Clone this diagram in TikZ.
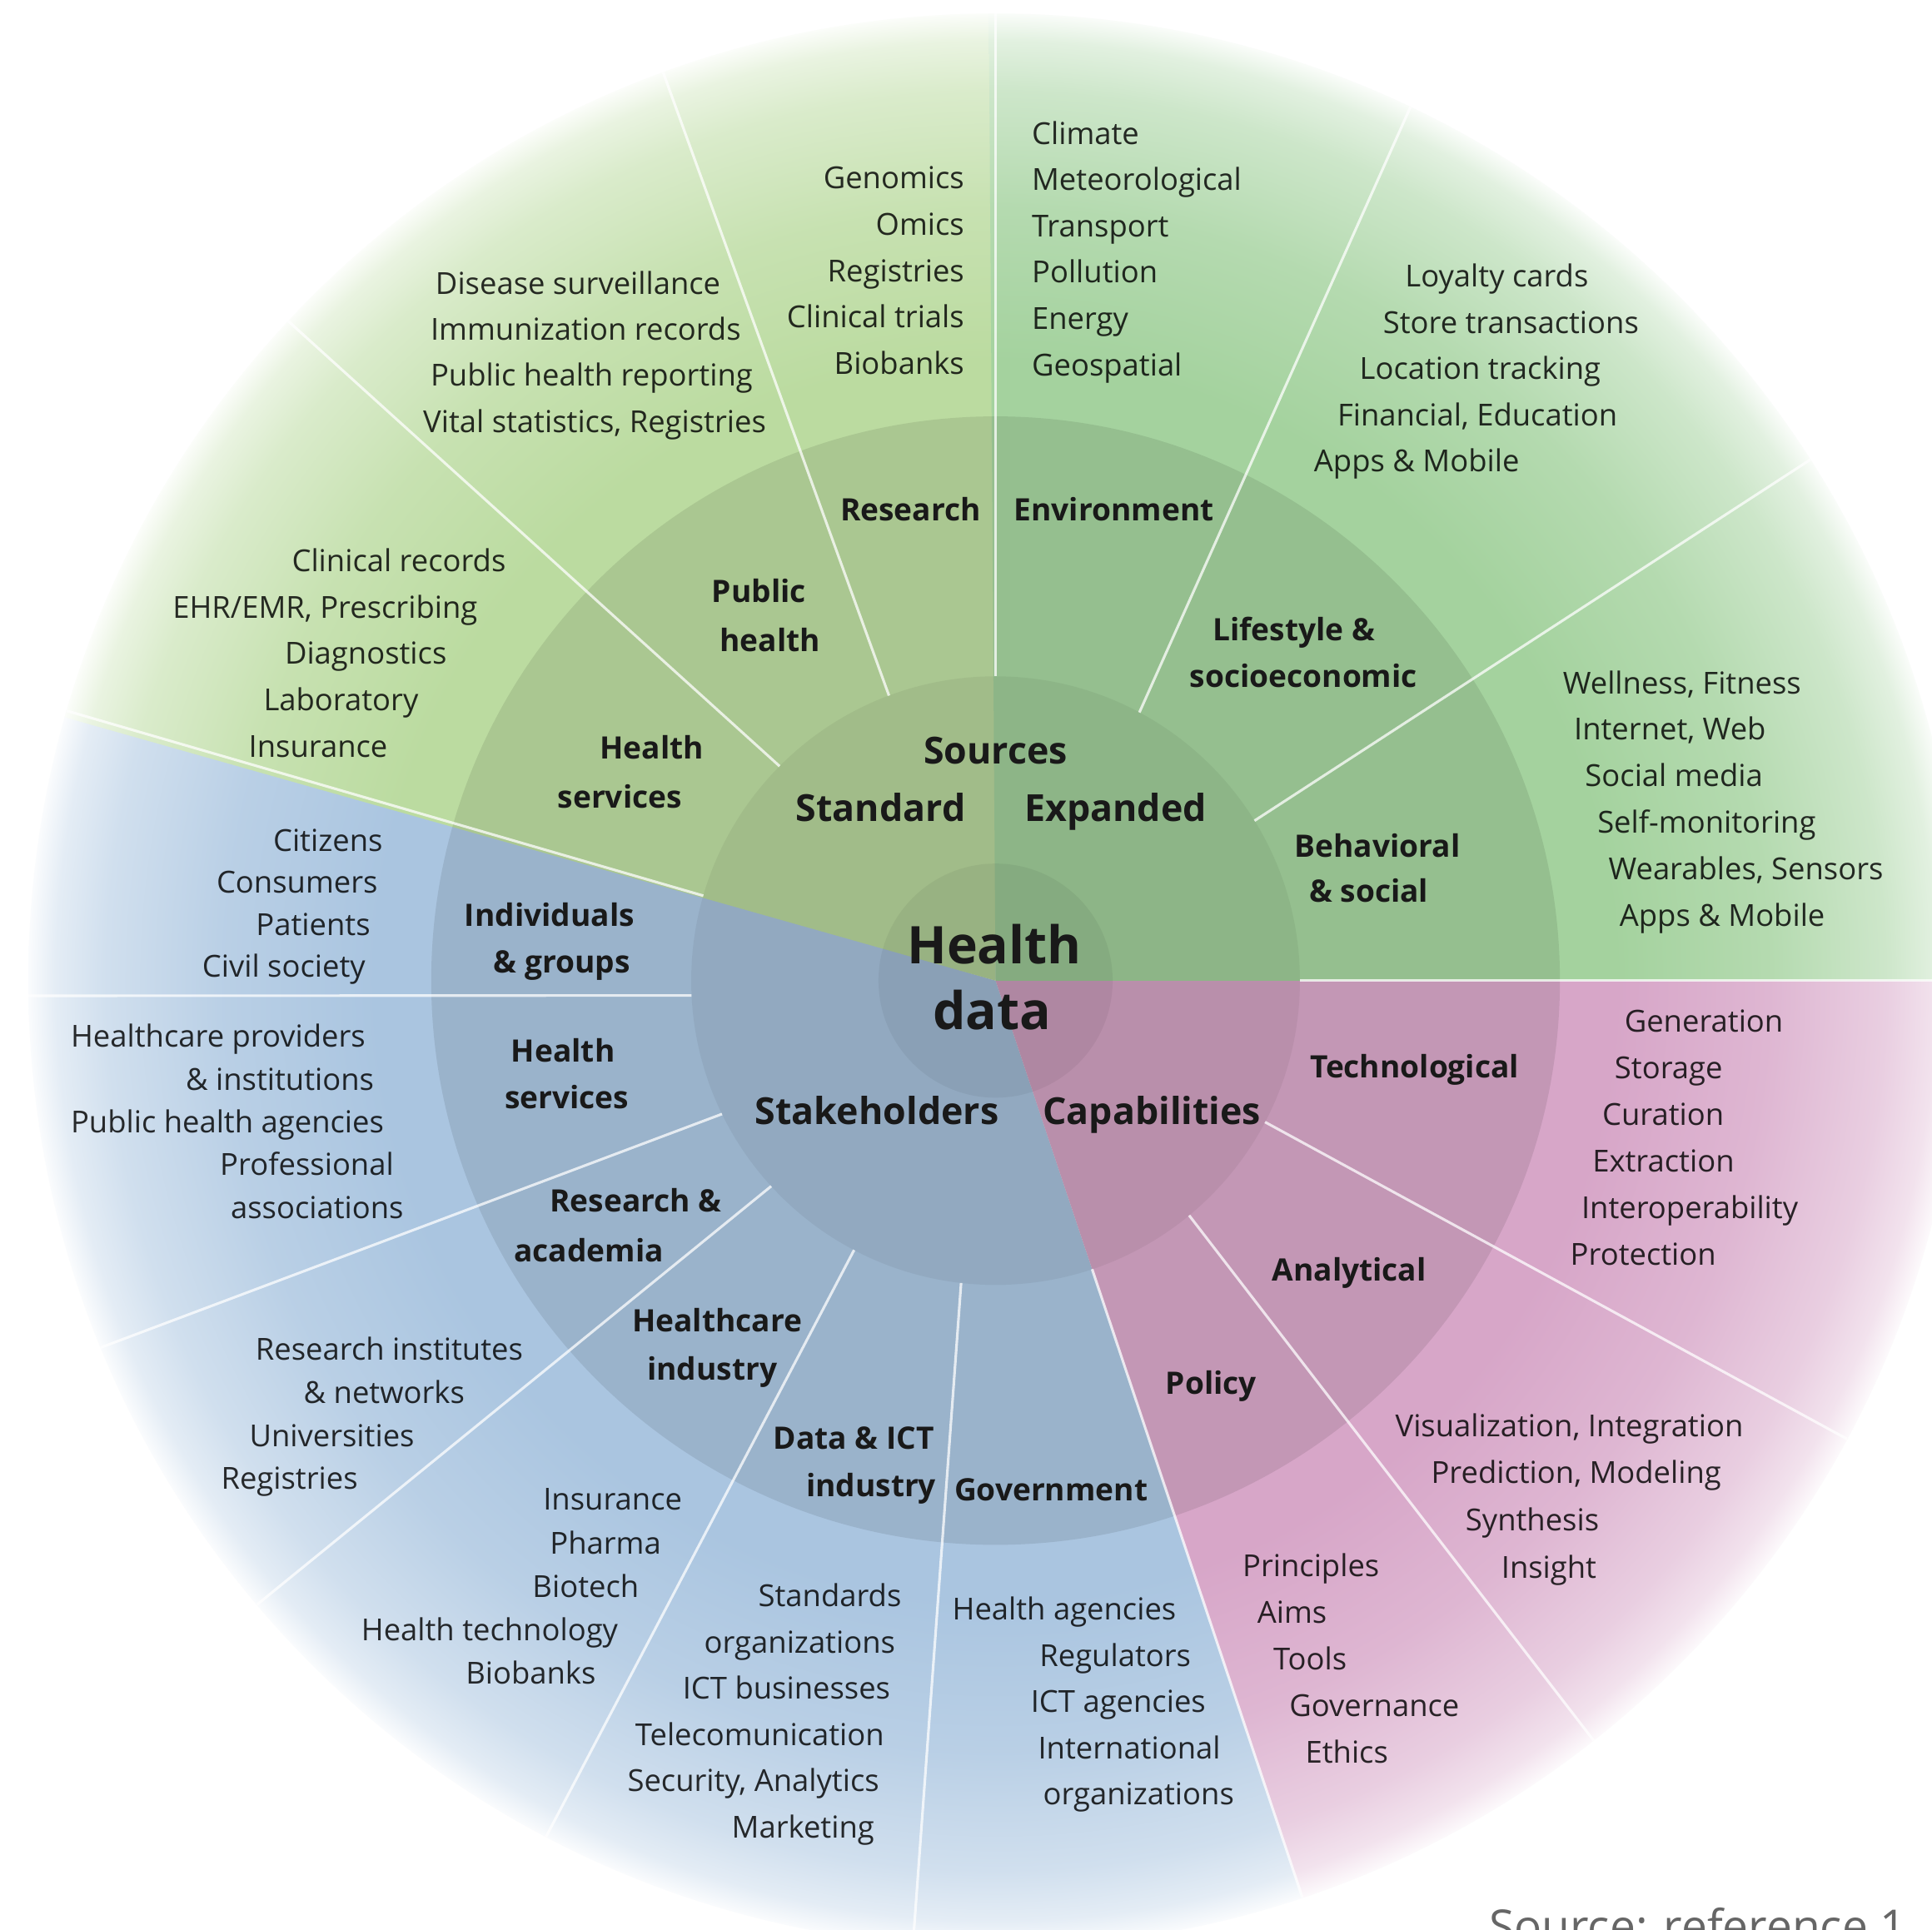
\documentclass[tikz,border=0pt]{standalone}
\usepackage{tikz}
\usepackage{fontspec}
\setmainfont{Open Sans}

% Colores de los sectores
\definecolor{verdestd}{RGB}{187,219,160}
\definecolor{verdeexp}{RGB}{164,210,158}
\definecolor{azul}{RGB}{170,197,224}
\definecolor{rosa}{RGB}{215,166,200}

% Degradado radial hacia el blanco en el borde (25bp = borde del circulo)
\newcommand{\degradado}[2]{%
  \pgfdeclareradialshading{#1}{\pgfpointorigin}{%
    color(0bp)=(#2); color(16bp)=(#2); color(20bp)=(#2!82!white);
    color(23bp)=(#2!55!white); color(24.3bp)=(#2!32!white); color(25bp)=(#2!6!white);
    color(25.3bp)=(white); color(50bp)=(white)}}
\degradado{stdfade}{verdestd}
\degradado{expfade}{verdeexp}
\degradado{azulfade}{azul}
\degradado{rosafade}{rosa}

\tikzset{
  item/.style={font=\fontsize{10.5}{12}\selectfont, text=black, text opacity=0.82, inner sep=0pt},
  rotulo/.style={font=\bfseries\fontsize{10.7}{12}\selectfont, text=black!90, inner sep=0pt},
  titulo/.style={font=\bfseries\fontsize{12.9}{15}\selectfont, text=black!90, inner sep=0pt},
  centro/.style={font=\bfseries\fontsize{18}{21}\selectfont, text=black!90, inner sep=0pt},
  fuente/.style={font=\fontsize{15.9}{18}\selectfont, text=black!60, inner sep=0pt},
  linea/.style={white, line width=0.9pt, opacity=0.75}
}

% Lista de lineas: nombre, anchor, y inicial, paso, estilo, x/texto
\newcommand{\bloque}[6]{%
  \foreach \x/\txt [count=\i from 0] in {#6}
    \node[#5, anchor=#2] (#1-\i) at (\x, #3-\i*#4) {\txt};}

\begin{document}
\begin{tikzpicture}[x=0.015cm, y=0.015cm]
    \clip (-808,-770) rectangle (760,796);
    \fill[white] (-808,-770) rectangle (760,796);

    % Sectores
    \foreach \ang/\fin/\som in {163.8/288.5/azulfade, 90/164.2/stdfade, -71.5/0.4/rosafade, 0/90.4/expfade} {
      \begin{scope}
        \clip (0,0) -- (\ang:800) arc[start angle=\ang, end angle=\fin, radius=800] -- cycle;
        \shade[shading=\som] (0,0) circle (785);
      \end{scope}
    }

    % Anillos
    \fill[black, opacity=0.09] (0,0) circle (458);
    \fill[black, opacity=0.05] (0,0) circle (247);
    \fill[black, opacity=0.05] (0,0) circle (95);

    % Divisiones
    \foreach \a/\b in {0/0, 31.7/32.6, 61.8/64.6, 90/90, 110.5/110.1, 135.2/137,
                       163.8/163.8, 182.8/180.9, 206/202.3, 222.5/220.2, 242.3/242.3,
                       263.5/265.1, 288.5/288.5, -50.5/-51.8, -27.7/-28.3}
      \draw[linea] (\a:247) -- (\b:785);

    % Centro
    \node[centro, anchor=base] (health) at (-1,14) {Health};
    \node[centro, anchor=base] (data) at (-3,-40) {data};
    \node[titulo, anchor=base] (sources) at (0,176) {Sources};
    \node[titulo, anchor=base east] (standard) at (-24,129) {Standard};
    \node[titulo, anchor=base west] (expanded) at (23,129) {Expanded};
    \node[titulo, anchor=base east] (stakeholders) at (3,-117) {Stakeholders};
    \node[titulo, anchor=base west] (capabilities) at (38,-117) {Capabilities};

    % Fuentes estandar
    \node[rotulo, anchor=base] (research) at (-69,373) {Research};
    \bloque{pub}{base}{307}{40}{rotulo}{-192/Public, -183/health}
    \bloque{hs}{base}{180}{40}{rotulo}{-279/Health, -305/services}
    \bloque{inv}{base east}{643}{37.75}{item}{-25/Genomics, -25/Omics, -25/Registries, -25/Clinical trials, -25/Biobanks}
    \bloque{sp}{base west}{557}{37.3}{item}{-455/Disease surveillance, -459/Immunization records, -459/Public health reporting, -465/{Vital statistics, Registries}}
    \bloque{ss}{base east}{332}{37.6}{item}{-397/Clinical records, -420/{EHR/EMR, Prescribing}, -445/Diagnostics, -468/Laboratory, -493/Insurance}

    % Fuentes ampliadas
    \node[rotulo, anchor=base] (environment) at (96,373) {Environment};
    \bloque{life}{base}{276}{38}{rotulo}{242/Lifestyle \&, 250/socioeconomic}
    \bloque{beh}{base}{100}{36}{rotulo}{310/Behavioral, 303/\& social}
    \bloque{ent}{base west}{679}{37.6}{item}{29/Climate, 29/Meteorological, 29/Transport, 29/Pollution, 29/Energy, 29/Geospatial}
    \bloque{ev}{base west}{563}{37.5}{item}{332/Loyalty cards, 314/Store transactions, 295/Location tracking, 277/{Financial, Education}, 258/Apps \& Mobile}
    \bloque{com}{base west}{233}{37.8}{item}{460/{Wellness, Fitness}, 469/{Internet, Web}, 478/Social media, 488/Self-monitoring, 497/{Wearables, Sensors}, 506/Apps \& Mobile}

    % Capacidades
    \node[rotulo, anchor=base] (technological) at (340,-79) {Technological};
    \node[rotulo, anchor=base] (analytical) at (287,-244) {Analytical};
    \node[rotulo, anchor=base] (policy) at (175,-336) {Policy};
    \bloque{tec}{base west}{-42}{37.8}{item}{510/Generation, 502/Storage, 492/Curation, 484/Extraction, 475/Interoperability, 466/Protection}
    \bloque{ana}{base west}{-370}{38.3}{item}{324/{Visualization, Integration}, 353/{Prediction, Modeling}, 381/Synthesis, 410/Insight}
    \bloque{pol}{base west}{-484}{37.75}{item}{200/Principles, 212/Aims, 225/Tools, 238/Governance, 251/Ethics}

    % Actores
    \bloque{igr}{base}{44}{38}{rotulo}{-362/Individuals, -352/\& groups}
    \bloque{hsb}{base}{-66}{38}{rotulo}{-351/Health, -348/services}
    \bloque{rac}{base}{-188}{40}{rotulo}{-292/Research \&, -330/academia}
    \bloque{hci}{base}{-285}{39}{rotulo}{-226/Healthcare, -230/industry}
    \bloque{dict}{base}{-380}{39}{rotulo}{-115/Data \& ICT, -101/industry}
    \node[rotulo, anchor=base] (government) at (45,-422) {Government};
    \bloque{ind}{base east}{105}{34}{item}{-497/Citizens, -501/Consumers, -507/Patients, -511/Civil society}
    \bloque{srv}{base east}{-54}{34.75}{item}{-511/Healthcare providers, -504/\& institutions, -496/Public health agencies, -488/Professional, -480/associations}
    \bloque{aca}{base west}{-308}{35}{item}{-601/Research institutes, -562/\& networks, -606/Universities, -629/Registries}
    \bloque{hin}{base east}{-430}{35.25}{item}{-254/Insurance, -271/Pharma, -289/Biotech, -306/Health technology, -324/Biobanks}
    \bloque{tic}{base east}{-508}{37.6}{item}{-76/Standards, -81/organizations, -85/ICT businesses, -90/Telecomunication, -94/{Security, Analytics}, -98/Marketing}
    \bloque{gob}{base east}{-519}{37.5}{item}{147/Health agencies, 159/Regulators, 171/ICT agencies, 183/International, 194/organizations}

    % Fuente
    \node[fuente, anchor=base west] (src) at (400,-781) {Source: reference 1};
\end{tikzpicture}
\end{document}
